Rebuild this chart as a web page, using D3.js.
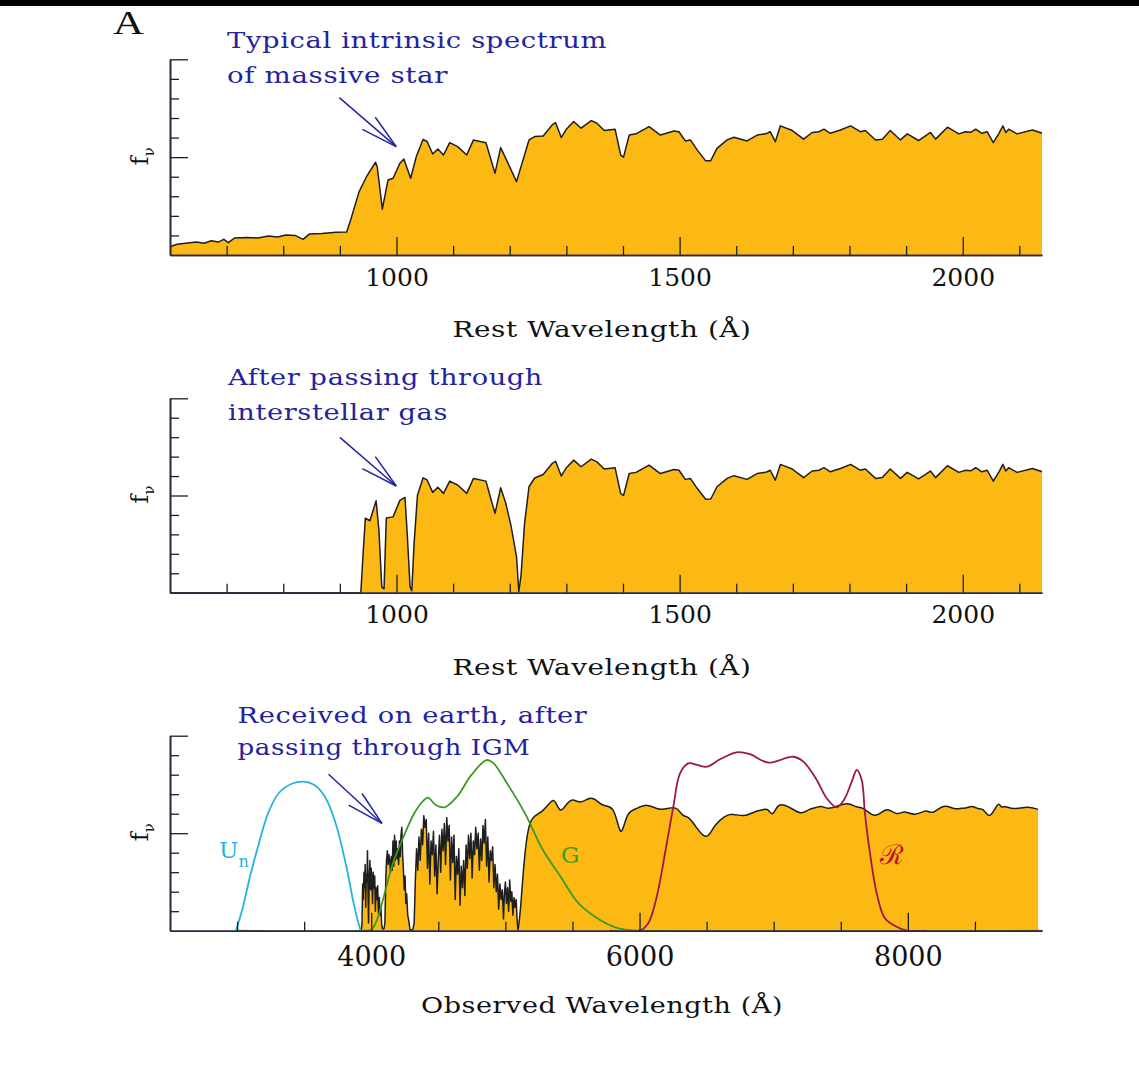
<!DOCTYPE html>
<html>
<head>
<meta charset="utf-8">
<script src="https://cdn.jsdelivr.net/npm/d3@7"></script>
<style>
  body { margin: 0; background: #fff; }
  svg { display: block; }
  text { font-family: "DejaVu Serif", "Liberation Serif", serif; }
</style>
</head>
<body>
<svg id="chart" width="1139" height="1074"></svg>
<script>
// ---- Data -------------------------------------------------------------

// Intrinsic rest-frame spectrum of a massive star: [wavelength (Å), f_nu]
const intrinsicSpectrum = [
  [600,0.42],[612,0.55],[635,0.63],[647,0.66],[660,0.6],[673,0.73],[685,0.66],[695,0.8],
  [703,0.63],[714,0.87],[736,0.9],[755,0.87],[774,0.97],[790,0.92],[805,1.02],[821,1.0],
  [835,0.8],[846,1.07],[868,1.1],[893,1.16],[912,1.18],[919,1.79],[934,3.24],[947,4.0],
  [963,4.74],[966,4.5],[975,2.34],[985,3.83],[994,3.92],[1006,4.69],[1013,4.9],[1025,3.92],
  [1035,5.03],[1047,5.91],[1054,5.8],[1064,5.16],[1073,5.42],[1083,5.11],[1094,5.74],
  [1108,5.54],[1124,5.11],[1136,5.88],[1158,5.74],[1174,4.18],[1184,5.49],[1212,3.75],
  [1234,5.88],[1244,6.05],[1259,6.08],[1275,6.65],[1281,6.76],[1291,6.0],[1300,6.43],
  [1313,6.82],[1326,6.48],[1344,6.87],[1354,6.73],[1367,6.36],[1386,6.43],[1396,5.1],
  [1401,5.0],[1411,6.13],[1423,6.19],[1446,6.56],[1466,6.13],[1490,6.34],[1499,6.3],
  [1510,5.83],[1519,5.88],[1531,5.37],[1546,4.81],[1555,4.82],[1566,5.45],[1584,5.88],
  [1596,6.02],[1619,5.83],[1637,6.13],[1652,6.19],[1660,6.3],[1669,5.79],[1678,6.6],
  [1699,6.36],[1719,5.92],[1734,6.26],[1746,6.3],[1755,6.43],[1766,6.22],[1784,6.39],
  [1802,6.6],[1819,6.3],[1828,6.36],[1846,5.88],[1858,5.92],[1872,6.36],[1890,5.88],
  [1902,6.19],[1922,5.85],[1943,6.26],[1952,5.92],[1973,6.53],[1993,6.19],[2005,6.3],
  [2014,6.27],[2023,6.43],[2034,6.22],[2043,6.3],[2054,5.74],[2064,6.22],[2071,6.6],
  [2076,6.26],[2081,6.43],[2096,6.19],[2123,6.39],[2141,6.22]
];

// Blue end of the spectrum after interstellar absorption (Lyman series + damped Lyα)
const interstellarBlue = [
  [600,0],[937,0],[941,2.0],[945,3.83],[953,3.7],[964,4.73],[969,3.2],[974,0.3],[978,0.2],
  [982,3.84],[994,3.9],[1006,4.75],[1015,4.9],[1019,3.0],[1024,0.3],[1027,0.1],[1031,2.5],
  [1037,5.0],[1047,5.91],[1054,5.8],[1064,5.16],[1073,5.42],[1083,5.11],[1094,5.74],
  [1108,5.54],[1124,5.11],[1136,5.88],[1158,5.74],[1166,4.9],[1174,4.08],[1184,5.4],
  [1193,4.6],[1202,3.48],[1212,1.85],[1216,0.05],[1220,0.9],[1226,3.5],[1234,5.45],[1244,5.9]
];

// Observed Lyman-alpha forest region: [observed wavelength (Å), f_nu]
const forestSpectrum = [
  [3925,0],[3931,0.3],[3936,2.4],[3941,1.6],[3946,3.0],[3950,2.2],[3955,3.4],[3959,1.2],
  [3963,2.9],[3968,2.5],[3972,4.1],[3976,2.0],[3980,0.4],[3985,2.8],[3990,3.6],[3995,2.1],
  [4000,3.2],[4005,2.6],[4010,1.4],[4015,3.0],[4020,2.2],[4026,2.8],[4031,1.0],[4036,2.2],
  [4042,1.6],[4048,2.3],[4054,0.9],[4060,1.7],[4066,0.8],[4072,1.2],[4078,0.3],[4084,0.1],
  [4095,0.1],[4102,0.4],[4108,2.5],[4114,3.6],[4120,4.1],[4126,3.4],[4132,3.9],[4138,3.6],
  [4144,3.0],[4150,3.8],[4156,3.1],[4162,4.6],[4168,3.3],[4174,4.9],[4180,3.6],[4186,4.6],
  [4192,3.7],[4198,4.2],[4204,3.4],[4210,4.6],[4216,3.8],[4222,4.9],[4228,5.3],[4234,3.9],
  [4240,3.1],[4246,2.1],[4252,2.8],[4258,1.4],[4264,1.9],[4272,0.8],[4280,0.5],[4289,0.05],
  [4310,0.05],[4320,0.4],[4329,2.6],[4338,4.2],[4347,3.1],[4356,4.8],[4365,3.6],[4374,5.2],
  [4383,4.4],[4392,5.9],[4401,5.3],[4410,5.7],[4419,3.2],[4428,5.0],[4437,2.4],[4446,4.6],
  [4455,3.9],[4464,5.1],[4473,2.8],[4482,4.4],[4491,1.9],[4500,3.7],[4509,4.9],[4518,3.0],
  [4527,5.2],[4536,4.1],[4545,5.5],[4554,3.4],[4563,5.8],[4572,4.6],[4581,5.4],[4590,2.6],
  [4599,4.8],[4608,3.5],[4617,4.9],[4626,1.6],[4635,3.8],[4644,2.9],[4653,4.2],[4662,1.3],
  [4671,3.3],[4680,2.2],[4689,3.6],[4698,1.8],[4707,4.4],[4716,3.2],[4725,4.9],[4734,3.7],
  [4743,5.0],[4752,2.7],[4761,4.6],[4770,3.9],[4779,5.3],[4788,4.2],[4797,5.0],[4806,3.1],
  [4815,4.7],[4824,3.6],[4833,5.4],[4842,4.5],[4851,5.7],[4860,3.3],[4869,4.8],[4878,2.5],
  [4887,4.1],[4896,3.6],[4905,4.3],[4914,2.2],[4923,3.4],[4932,2.0],[4941,2.9],[4950,1.1],
  [4959,2.4],[4968,1.6],[4977,2.1],[4986,0.6],[4992,1.8],[5000,2.5],[5008,1.4],[5016,2.2],
  [5024,1.0],[5032,2.6],[5040,1.5],[5048,2.0],[5056,0.8],[5064,1.7],[5072,1.2],[5080,1.6],
  [5088,0.5],[5094,0.0]
];

// Redshift of the galaxy: observed = rest × (1 + z)
const redshiftFactor = 4.19;

// Filter transmission curves: [observed wavelength (Å), response]
const filterUn = [
  [2992,0],[3044,1.23],[3096,2.77],[3149,4.14],[3231,6.02],[3310,7.05],[3417,7.56],
  [3496,7.64],[3576,7.47],[3655,6.87],[3735,5.5],[3815,3.28],[3869,1.4],[3908,0.3],[3922,0]
];
const filterG = [
  [3000,0],[3950,0],[4001,0.05],[4040,0.5],[4080,1.4],[4162,3.46],[4241,4.82],[4321,6.02],
  [4380,6.6],[4422,6.82],[4481,6.45],[4547,6.33],[4639,6.87],[4747,7.99],[4859,8.75],
  [4907,8.62],[5012,7.56],[5146,6.02],[5280,4.14],[5412,2.77],[5546,1.4],[5705,0.55],
  [5810,0.2],[5892,0.05],[6000,0],[9000,0]
];
const filterR = [
  [5780,0],[6004,0],[6065,0.38],[6128,1.74],[6190,3.97],[6252,6.36],[6302,8.07],[6364,8.58],
  [6430,8.5],[6501,8.41],[6600,8.79],[6724,9.15],[6823,9.05],[6960,8.62],[7146,8.92],
  [7221,8.67],[7321,7.73],[7395,6.79],[7470,6.33],[7523,6.7],[7582,7.64],[7619,8.24],
  [7656,7.73],[7680,6.02],[7718,3.97],[7768,1.92],[7829,0.64],[7917,0.2],[7992,0],[8141,0]
];

// Axis ticks
const restMajorTicks = [1000, 1500, 2000];
const restMinorTicks = [700, 800, 900, 1100, 1200, 1300, 1400, 1600, 1700, 1800, 1900, 2100];
const obsMajorTicks = [4000, 6000, 8000];
const obsMinorTicks = [3000, 3500, 4500, 5000, 5500, 6500, 7000, 7500, 8500];
const fluxMajorTicks = [5, 10];
const fluxMinorTicks = [1, 2, 3, 4, 6, 7, 8, 9];

// ---- Drawing ----------------------------------------------------------

const svg = d3.select("#chart");
const ORANGE = "#fdb913";
const INK = "#1f1f1f";
const AXIS = "#2b2640";
const BLUE = "#2323a0";

svg.append("rect").attr("x", 0).attr("y", 0).attr("width", 1139).attr("height", 6).attr("fill", "#000");

svg.append("text").attr("x", 113).attr("y", 34)
  .style("font-family", "'Liberation Serif', serif").style("font-size", "33px").attr("fill", "#111")
  .attr("textLength", 31).attr("lengthAdjust", "spacingAndGlyphs")
  .text("A");

const left = 170, right = 1042;

const panels = [
  { top: 59.3, base: 255, domain: [600, 2140], major: restMajorTicks, minor: restMinorTicks,
    title: "Rest Wavelength (Å)", titleY: 337, titleLen: 299, tickFont: 25, tickPad: 13,
    note: ["Typical intrinsic spectrum", "of massive star"], noteX: 227, noteY: [48, 83],
    noteLen: [380, 221], arrow: { from: [899, 8.04], to: [999.5, 5.54] } },
  { top: 398.3, base: 592.7, domain: [600, 2140], major: restMajorTicks, minor: restMinorTicks,
    title: "Rest Wavelength (Å)", titleY: 674.5, titleLen: 299, tickFont: 25, tickPad: 13,
    note: ["After passing through", "interstellar gas"], noteX: 228, noteY: [385, 420],
    noteLen: [315, 220], arrow: { from: [900, 7.99], to: [999.5, 5.49] } },
  { top: 735.7, base: 930.7, domain: [2500, 9000], major: obsMajorTicks, minor: obsMinorTicks,
    title: "Observed Wavelength (Å)", titleY: 1013, titleLen: 362, tickFont: 27, tickPad: 16,
    note: ["Received on earth, after", "passing through IGM"], noteX: 237.5, noteY: [723.3, 755],
    noteLen: [350, 293], arrow: { from: [3682, 8.02], to: [4080, 5.5] } }
];

panels.forEach((p, i) => {
  p.x = d3.scaleLinear().domain(p.domain).range([left, right]);
  p.y = d3.scaleLinear().domain([0, 10]).range([p.base, p.top]);
  p.g = svg.append("g");
  p.clipId = "clip" + i;
  svg.append("clipPath").attr("id", p.clipId).append("rect")
    .attr("x", left).attr("y", p.top - 40).attr("width", right - left).attr("height", p.base - p.top + 40);
});

function drawSpectrum(p, data, curve) {
  const area = d3.area().curve(curve || d3.curveLinear)
    .x(d => p.x(d[0])).y0(p.base).y1(d => p.y(d[1]));
  const line = d3.line().curve(curve || d3.curveLinear)
    .x(d => p.x(d[0])).y(d => p.y(d[1]));
  const g = p.g.append("g").attr("clip-path", `url(#${p.clipId})`);
  g.append("path").datum(data).attr("d", area).attr("fill", ORANGE);
  g.append("path").datum(data).attr("d", line).attr("fill", "none")
    .attr("stroke", INK).attr("stroke-width", 1.5).attr("stroke-linejoin", "round");
}

function drawFilter(p, data, color) {
  const line = d3.line().curve(d3.curveCatmullRom.alpha(0.5))
    .x(d => p.x(d[0])).y(d => p.y(d[1]));
  p.g.append("g").attr("clip-path", `url(#${p.clipId})`)
    .append("path").datum(data).attr("d", line).attr("fill", "none")
    .attr("stroke", color).attr("stroke-width", 1.8);
}

// Panel 1: intrinsic spectrum
drawSpectrum(panels[0], intrinsicSpectrum);

// Panel 2: after interstellar gas
const ismSpectrum = interstellarBlue.concat(intrinsicSpectrum.filter(d => d[0] >= 1259));
drawSpectrum(panels[1], ismSpectrum);

// Panel 3: observed on earth, forest plus the redshifted red side
drawSpectrum(panels[2], forestSpectrum);
const observedRed = ismSpectrum.filter(d => d[0] >= 1216).map(d => [d[0] * redshiftFactor, d[1]]);
drawSpectrum(panels[2], observedRed, d3.curveBasis);

drawFilter(panels[2], filterUn, "#27b3dc");
drawFilter(panels[2], filterG, "#3c9a22");
drawFilter(panels[2], filterR, "#9c1846");

// Axes, annotations, labels
panels.forEach(p => {
  const xMinor = d3.axisBottom(p.x).tickValues(p.minor).tickSize(-9).tickSizeOuter(0).tickFormat("");
  const xMajor = d3.axisBottom(p.x).tickValues(p.major).tickSize(-18).tickSizeOuter(0)
    .tickPadding(p.tickPad).tickFormat(d3.format("d"));
  const gxm = svg.append("g").attr("transform", `translate(0,${p.base})`).call(xMinor);
  const gx = svg.append("g").attr("transform", `translate(0,${p.base})`).call(xMajor);
  [gxm, gx].forEach(g => {
    g.select(".domain").attr("stroke", AXIS).attr("stroke-width", 1.6);
    g.selectAll(".tick line").attr("stroke", INK).attr("stroke-width", 1.3);
  });
  gx.selectAll(".tick text").attr("fill", "#111")
    .style("font-family", "'DejaVu Serif', serif").style("font-size", p.tickFont + "px");

  const yMinor = d3.axisLeft(p.y).tickValues(fluxMinorTicks).tickSize(-9).tickSizeOuter(0).tickFormat("");
  const yMajor = d3.axisLeft(p.y).tickValues(fluxMajorTicks).tickSize(-18).tickSizeOuter(0).tickFormat("");
  [yMinor, yMajor].forEach(ax => {
    const g = svg.append("g").attr("transform", `translate(${left},0)`).call(ax);
    g.select(".domain").attr("stroke", AXIS).attr("stroke-width", 1.6);
    g.selectAll(".tick line").attr("stroke", INK).attr("stroke-width", 1.3);
  });

  // y label f_ν
  const yl = svg.append("text")
    .attr("transform", `translate(148,${p.y(5) - 1}) rotate(-90)`)
    .attr("text-anchor", "middle").attr("fill", "#111").style("font-size", "24px");
  yl.append("tspan").text("f");
  yl.append("tspan").attr("dy", 6).style("font-size", "15px").text("ν");

  // x title
  svg.append("text").attr("x", 602).attr("y", p.titleY).attr("text-anchor", "middle")
    .attr("fill", "#111").style("font-size", "23px").style("letter-spacing", "0.5px")
    .attr("textLength", p.titleLen).attr("lengthAdjust", "spacingAndGlyphs").text(p.title);

  // annotation text
  p.note.forEach((t, k) => {
    svg.append("text").attr("x", p.noteX).attr("y", p.noteY[k]).attr("fill", BLUE)
      .style("font-size", "22px").style("letter-spacing", "0.5px")
      .attr("textLength", p.noteLen[k]).attr("lengthAdjust", "spacingAndGlyphs")
      .text(t);
  });

  // arrow with open double barbs
  const x0 = p.x(p.arrow.from[0]), y0 = p.y(p.arrow.from[1]);
  const x1 = p.x(p.arrow.to[0]), y1 = p.y(p.arrow.to[1]);
  const ang = Math.atan2(y0 - y1, x0 - x1);
  const arr = svg.append("g").attr("stroke", BLUE).attr("stroke-width", 1.5).attr("fill", "none");
  arr.append("line").attr("x1", x0).attr("y1", y0).attr("x2", x1).attr("y2", y1);
  [[-0.24, 38], [0.24, 36]].forEach(([da, len]) => {
    arr.append("line").attr("x1", x1).attr("y1", y1)
      .attr("x2", x1 + len * Math.cos(ang + da)).attr("y2", y1 + len * Math.sin(ang + da));
  });
});

// Filter labels
const un = svg.append("text").attr("x", 219).attr("y", 858).attr("fill", "#27b3dc").style("font-size", "23px");
un.append("tspan").text("U");
un.append("tspan").attr("dy", 9).style("font-size", "16px").text("n");
svg.append("text").attr("x", 561).attr("y", 863).attr("fill", "#3c9a22").style("font-size", "23px").text("G");
svg.append("text").attr("x", 880).attr("y", 864).attr("fill", "#c0142c")
  .style("font-size", "27px").text("ℛ");
</script>
</body>
</html>
